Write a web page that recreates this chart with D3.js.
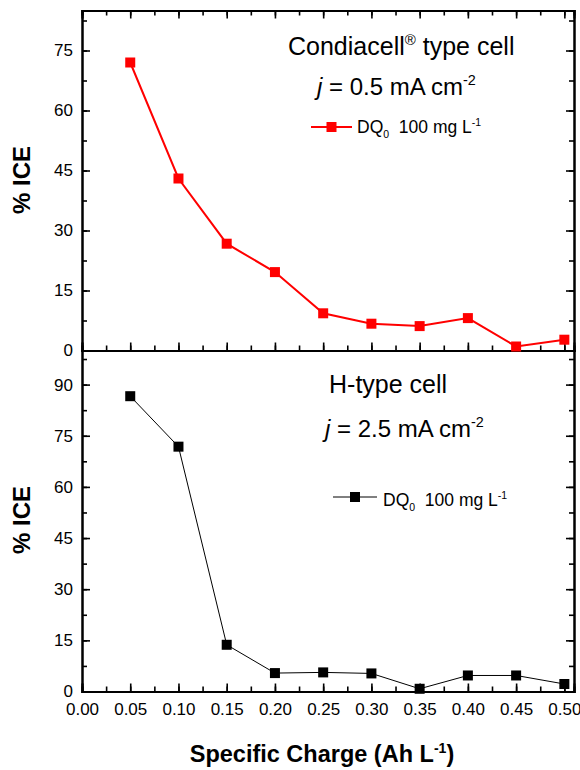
<!DOCTYPE html>
<html>
<head>
<meta charset="utf-8">
<script src="https://cdn.jsdelivr.net/npm/d3@7"></script>
<style>
  body { margin: 0; background: #fff; }
  svg { display: block; font-family: "Liberation Sans", Arial, sans-serif; }
  .axis path, .axis line { stroke: #000; }
  .axis path { stroke-width: 2; }
  .axis line { stroke-width: 1.6; }
  .axis text { font-size: 17px; fill: #000; }
</style>
</head>
<body>
<div id="chart"></div>
<script>
(() => {

  // Specific charge (Ah L-1)
  let charge = [0.05, 0.10, 0.15, 0.20, 0.25, 0.30, 0.35, 0.40, 0.45, 0.50]
  // % ICE, Condiacell type cell, j = 0.5 mA cm-2
  let ice_condiacell = [72.0, 43.0, 26.7, 19.6, 9.3, 6.7, 6.1, 8.1, 1.0, 2.7]
  // % ICE, H-type cell, j = 2.5 mA cm-2
  let ice_htype = [86.6, 71.8, 13.7, 5.4, 5.6, 5.3, 0.8, 4.7, 4.7, 2.2]

  let x_ticks = [0, 0.05, 0.10, 0.15, 0.20, 0.25, 0.30, 0.35, 0.40, 0.45, 0.50]
  let y_ticks_top = [0, 15, 30, 45, 60, 75]
  let y_ticks_bot = [0, 15, 30, 45, 60, 75, 90]

  let svg = d3.select("#chart")
  .append("svg")
  .attr("width", 580)
  .attr("height", 770)

  let left = 82, right = 574
  let top_y = 10.5, mid_y = 350.5, bot_y = 691.5

  let x = d3.scaleLinear().domain([0, 0.51]).range([left, right])
  let y_top = d3.scaleLinear().domain([0, 85]).range([mid_y, top_y])
  let y_bot = d3.scaleLinear().domain([0, 100]).range([bot_y, mid_y])

  let x_minor = d3.range(0, 0.51, 0.025)

  function panel(y, y_ticks, y_max, bottom_labels) {
    let y_minor = d3.range(0, y_max, 7.5)

    // left axis
    svg.append("g").attr("class", "axis")
    .attr("transform", "translate(" + left + ",0)")
    .call(d3.axisLeft(y).tickValues(y_minor).tickSize(-5).tickFormat(""))
    svg.append("g").attr("class", "axis")
    .attr("transform", "translate(" + left + ",0)")
    .call(d3.axisLeft(y).tickValues(y_ticks).tickSize(-8).tickPadding(9).tickFormat(d3.format("d")))

    // right axis
    svg.append("g").attr("class", "axis")
    .attr("transform", "translate(" + right + ",0)")
    .call(d3.axisRight(y).tickValues(y_minor).tickSize(-5).tickFormat(""))
    svg.append("g").attr("class", "axis")
    .attr("transform", "translate(" + right + ",0)")
    .call(d3.axisRight(y).tickValues(y_ticks).tickSize(-8).tickFormat(""))

    // bottom axis
    let y0 = y.range()[0]
    svg.append("g").attr("class", "axis")
    .attr("transform", "translate(0," + y0 + ")")
    .call(d3.axisBottom(x).tickValues(x_minor).tickSize(-5).tickFormat(""))
    svg.append("g").attr("class", "axis")
    .attr("transform", "translate(0," + y0 + ")")
    .call(d3.axisBottom(x).tickValues(x_ticks).tickSize(-8).tickPadding(11)
      .tickFormat(bottom_labels ? d3.format(".2f") : ""))
  }

  panel(y_top, y_ticks_top, 85, false)
  panel(y_bot, y_ticks_bot, 100, true)

  // top frame line
  svg.append("g").attr("class", "axis")
  .attr("transform", "translate(0," + top_y + ")")
  .call(d3.axisTop(x).tickValues(x_minor).tickSize(-5).tickFormat(""))
  svg.append("g").attr("class", "axis")
  .attr("transform", "translate(0," + top_y + ")")
  .call(d3.axisTop(x).tickValues(x_ticks).tickSize(-8).tickFormat(""))

  // series
  function series(values, y, color, width) {
    let pts = charge.map((c, i) => [c, values[i]])
    svg.append("path")
    .datum(pts)
    .attr("fill", "none")
    .attr("stroke", color)
    .attr("stroke-width", width)
    .attr("d", d3.line().x(d => x(d[0])).y(d => y(d[1])))

    svg.selectAll(null)
    .data(pts)
    .enter()
    .append("rect")
    .attr("x", d => x(d[0]) - 5)
    .attr("y", d => y(d[1]) - 5)
    .attr("width", 10)
    .attr("height", 10)
    .attr("fill", color)
  }

  series(ice_condiacell, y_top, "#ff0000", 2)
  series(ice_htype, y_bot, "#000000", 1)

  // annotations
  function sup_text(xp, yp, size, parts, anchor) {
    let t = svg.append("text")
    .attr("x", xp).attr("y", yp)
    .style("font-size", size + "px")
    .style("white-space", "pre")
    .attr("text-anchor", anchor || "start")
    parts.forEach(p => {
      let s = t.append("tspan").text(p.t)
      if (p.sup) s.attr("dy", -size * 0.4).style("font-size", (size * 0.6) + "px")
      if (p.sub) s.attr("dy", size * 0.3).style("font-size", (size * 0.6) + "px")
      if (p.back) s.attr("dy", p.back)
      if (p.italic) s.style("font-style", "italic")
      if (p.bold) s.style("font-weight", "bold")
    })
    return t
  }

  sup_text(288, 55, 25, [{t: "Condiacell"}, {t: "®", sup: true}, {t: " type cell", back: 25 * 0.4}])
  sup_text(317, 95, 24, [{t: "j", italic: true}, {t: " = 0.5 mA cm"}, {t: "-2", sup: true}])

  sup_text(329, 393, 25, [{t: "H-type cell"}])
  sup_text(325, 437, 24, [{t: "j", italic: true}, {t: " = 2.5 mA cm"}, {t: "-2", sup: true}])

  // legends
  function legend(x1, x2, yl, color, width, tx, ty) {
    svg.append("line")
    .attr("x1", x1).attr("x2", x2).attr("y1", yl).attr("y2", yl)
    .attr("stroke", color).attr("stroke-width", width)
    svg.append("rect")
    .attr("x", (x1 + x2) / 2 - 5).attr("y", yl - 5)
    .attr("width", 10).attr("height", 10)
    .attr("fill", color)
    sup_text(tx, ty, 17.5, [{t: "DQ"}, {t: "0", sub: true}, {t: "  100 mg L", back: -17.5 * 0.3}, {t: "-1", sup: true}])
  }

  legend(311, 352, 127, "#ff0000", 2, 357, 133)
  legend(333, 377, 497, "#000000", 1, 383, 506)

  // axis titles
  svg.append("text")
  .attr("transform", "translate(30,180) rotate(-90)")
  .attr("text-anchor", "middle")
  .style("font-size", "24px").style("font-weight", "bold")
  .text("% ICE")

  svg.append("text")
  .attr("transform", "translate(30,520) rotate(-90)")
  .attr("text-anchor", "middle")
  .style("font-size", "24px").style("font-weight", "bold")
  .text("% ICE")

  sup_text(322, 762, 23.5, [{t: "Specific Charge (Ah L", bold: true}, {t: "-1", sup: true, bold: true}, {t: ")", bold: true, back: 23.5 * 0.4}], "middle")

})()
</script>
</body>
</html>
